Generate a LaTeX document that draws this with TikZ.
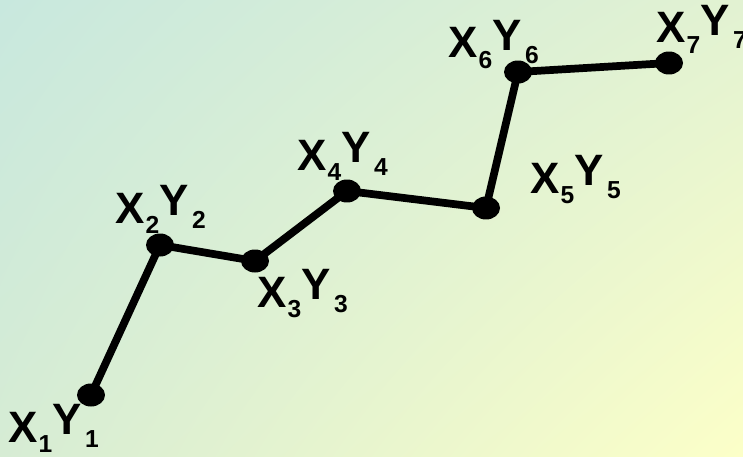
\documentclass[tikz,border=0pt]{standalone}
\usepackage{fontspec}
\setmainfont{Liberation Sans}
\usetikzlibrary{shapes.geometric, shadings}
\definecolor{bgmint}{HTML}{C8E8DE}
\definecolor{bgcream}{HTML}{FCFFC8}
\definecolor{bgleaf}{HTML}{E2F2D2}
\definecolor{bgsage}{HTML}{D6ECD4}
\newcommand{\subd}[2]{\raisebox{#1}{\fontsize{14}{15}\selectfont #2}}
\newcommand{\xylbl}[1]{X\kern0.6pt\subd{-5.7pt}{#1}\raisebox{4pt}{Y\kern2pt\subd{-7.4pt}{#1}}}
\tikzset{
  pt/.style={ellipse, fill=black, inner sep=0pt, minimum width=0.56cm, minimum height=0.46cm},
  lbl/.style={anchor=base west, inner sep=0pt, font=\fontsize{25}{27}\selectfont\bfseries}
}

\begin{document}
\begin{tikzpicture}[x=0.02cm, y=-0.02cm]
      \shade[upper left=bgmint, upper right=bgleaf, lower left=bgsage, lower right=bgcream]
        (0,0) rectangle (743,456);
      \useasboundingbox (0,0) rectangle (743,456);
      % labels
      \node[lbl] (l1) at (8,442) {\xylbl{1}};
      \node[lbl] (l2) at (115,223) {\xylbl{2}};
      \node[lbl] (l3) at (257,307) {\xylbl{3}};
      \node[lbl] (l4) at (297,170) {\xylbl{4}};
      \node[lbl] (l5) at (530,193) {\xylbl{5}};
      \node[lbl] (l6) at (448,58) {\xylbl{6}};
      \node[lbl] (l7) at (656,43) {\xylbl{7}};
      % points
      \node[pt] (p1) at (91,395) {};
      \node[pt] (p2) at (160,245) {};
      \node[pt] (p3) at (255,261) {};
      \node[pt] (p4) at (347,191) {};
      \node[pt] (p5) at (486,208) {};
      \node[pt] (p6) at (518,72) {};
      \node[pt] (p7) at (669,63) {};
      \draw[line width=4.4pt] (p1.center) -- (p2.center) -- (p3.center) -- (p4.center)
        -- (p5.center) -- (p6.center) -- (p7.center);
    \end{tikzpicture}
\end{document}
